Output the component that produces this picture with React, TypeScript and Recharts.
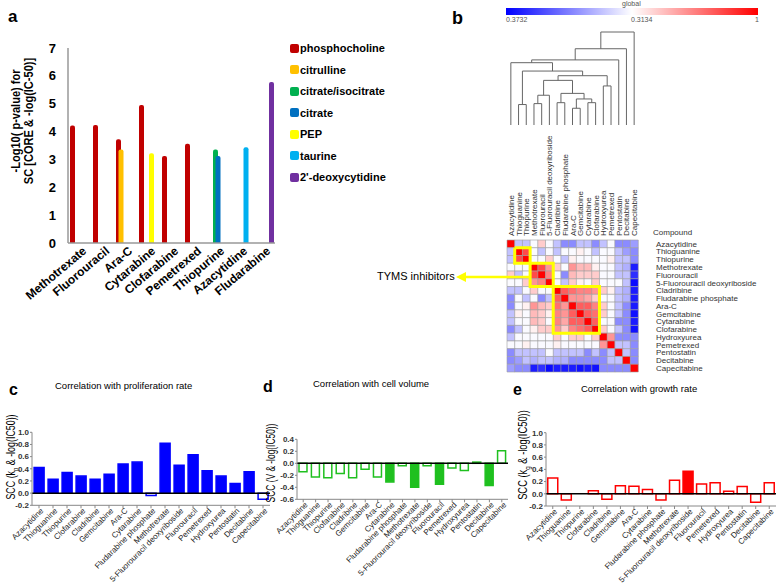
import React from "react";
import {
  BarChart,
  Bar,
  XAxis,
  YAxis,
  Cell,
  ReferenceLine,
  ScatterChart,
  Scatter,
} from "recharts";

const FONT = "'Liberation Sans', Arial, sans-serif";

// ---------- panel a ----------
const drugsA = [
  "Methotrexate",
  "Fluorouracil",
  "Ara-C",
  "Cytarabine",
  "Clofarabine",
  "Pemetrexed",
  "Thiopurine",
  "Azacytidine",
  "Fludarabine",
];
const metabolites = [
  "phosphocholine",
  "citrulline",
  "citrate/isocitrate",
  "citrate",
  "PEP",
  "taurine",
  "2'-deoxycytidine",
];
const metaboliteColors = ["#C00000", "#FFC000", "#00B050", "#0070C0", "#FFFF00", "#00B0F0", "#7030A0"];
const phosphocholine = [4.22, 4.24, 3.72, 4.95, 3.12, 3.56, null, null, null];
const citrulline = [null, null, 3.36, null, null, null, null, null, null];
const citrateIsocitrate = [null, null, null, null, null, null, 3.36, null, null];
const citrate = [null, null, null, null, null, null, 3.12, null, null];
const pep = [null, null, null, 3.22, null, null, null, null, null];
const taurine = [null, null, null, null, null, null, null, 3.44, null];
const deoxycytidine = [null, null, null, null, null, null, null, null, 5.78];
const seriesA = [phosphocholine, citrulline, citrateIsocitrate, citrate, pep, taurine, deoxycytidine];
const yTicksA = [0, 1, 2, 3, 4, 5, 6, 7];

// ---------- panel b ----------
const heatCompounds = [
  "Azacytidine",
  "Thioguanine",
  "Thiopurine",
  "Methotrexate",
  "Fluorouracil",
  "5-Fluorouracil deoxyriboside",
  "Cladribine",
  "Fludarabine phosphate",
  "Ara-C",
  "Gemcitabine",
  "Cytarabine",
  "Clofarabine",
  "Hydroxyurea",
  "Pemetrexed",
  "Pentostatin",
  "Decitabine",
  "Capecitabine",
];
const corrRows = [
  [1, 0.15, 0.15, 0.3, 0.45, 0.3, 0.15, 0, 0, 0.15, 0.15, 0, 0.15, 0.3, 0, 0, 0.05],
  [0.15, 1, 0.8, 0.3, 0.15, 0.3, 0.15, 0.3, 0.3, 0.35, 0.3, 0.15, 0.3, 0.3, 0.15, 0.05, 0],
  [0.15, 0.8, 1, 0.3, 0.3, 0.45, 0.3, 0.15, 0.35, 0.3, 0.3, 0.3, 0.3, 0.35, 0.15, 0.15, 0],
  [0.3, 0.3, 0.3, 1, 0.8, 0.6, 0.45, 0.3, 0.6, 0.5, 0.5, 0.35, 0.3, 0.3, 0.15, 0.1, -0.3],
  [0.45, 0.15, 0.3, 0.8, 1, 0.65, 0.3, 0, 0.5, 0.45, 0.45, 0.45, 0.3, 0.3, 0.15, 0.15, -0.25],
  [0.3, 0.3, 0.45, 0.6, 0.65, 1, 0.3, 0.15, 0.45, 0.35, 0.3, 0.45, 0.3, 0.3, 0.3, 0.15, -0.35],
  [0.15, 0.15, 0.3, 0.45, 0.3, 0.3, 1, 0.75, 0.7, 0.65, 0.65, 0.6, 0.45, 0.35, 0.15, 0.1, -0.3],
  [0, 0.3, 0.15, 0.3, 0, 0.15, 0.75, 1, 0.6, 0.6, 0.55, 0.45, 0.3, 0.3, 0.15, 0.1, -0.3],
  [0, 0.3, 0.35, 0.6, 0.5, 0.45, 0.7, 0.6, 1, 0.75, 0.75, 0.65, 0.45, 0.3, 0.15, 0, -0.3],
  [0.15, 0.35, 0.3, 0.5, 0.45, 0.35, 0.65, 0.6, 0.75, 1, 0.75, 0.7, 0.45, 0.3, 0.15, 0, -0.33],
  [0.15, 0.3, 0.3, 0.5, 0.45, 0.3, 0.65, 0.55, 0.75, 0.75, 1, 0.75, 0.3, 0.3, 0, 0, -0.3],
  [0, 0.15, 0.3, 0.35, 0.45, 0.45, 0.6, 0.45, 0.65, 0.7, 0.75, 1, 0.45, 0.3, 0.15, 0, -0.33],
  [0.15, 0.3, 0.3, 0.3, 0.3, 0.3, 0.45, 0.3, 0.45, 0.45, 0.3, 0.45, 1, 0.6, 0, 0, 0],
  [0.3, 0.3, 0.35, 0.3, 0.3, 0.3, 0.35, 0.3, 0.3, 0.3, 0.3, 0.3, 0.6, 1, 0.15, 0.15, 0],
  [0, 0.15, 0.15, 0.15, 0.15, 0.3, 0.15, 0.15, 0.15, 0.15, 0, 0.15, 0, 0.15, 1, 0.15, 0],
  [0, 0.05, 0.15, 0.1, 0.15, 0.15, 0.1, 0.1, 0, 0, 0, 0, 0, 0.15, 0.15, 1, 0],
  [0.05, 0, 0, -0.3, -0.25, -0.35, -0.3, -0.3, -0.3, -0.33, -0.3, -0.33, 0, 0, 0, 0, 1],
];
const colorStops = [-0.3732, 0.3134, 1];
const colorStopLabels = ["0.3732", "0.3134", "1"];
// [left node, right node, height]; nodes 0-16 are leaves, 17+ are the merges in order
const merges = [
  [1, 2, 0.22],
  [3, 4, 0.23],
  [6, 7, 0.24],
  [8, 9, 0.18],
  [10, 11, 0.24],
  [18, 5, 0.32],
  [20, 21, 0.28],
  [19, 23, 0.34],
  [12, 13, 0.42],
  [22, 24, 0.48],
  [26, 25, 0.53],
  [17, 27, 0.58],
  [0, 28, 0.67],
  [29, 14, 0.7],
  [30, 15, 0.82],
  [31, 16, 1.0],
];
// first / last compound of each highlighted block
const clusters = [
  [1, 2],
  [3, 5],
  [6, 11],
];

// ---------- panels c, d, e ----------
const corrCompounds = [
  "Azacytidine",
  "Thioguanine",
  "Thiopurine",
  "Clofarabine",
  "Cladribine",
  "Gemcitabine",
  "Ara-C",
  "Cytarabine",
  "Fludarabine phosphate",
  "Methotrexate",
  "5-Fluorouracil deoxyriboside",
  "Fluorouracil",
  "Pemetrexed",
  "Hydroxyurea",
  "Pentostatin",
  "Decitabine",
  "Capecitabine",
];
const sccProliferation = [0.42, 0.23, 0.34, 0.28, 0.23, 0.31, 0.48, 0.51, -0.04, 0.82, 0.46, 0.63, 0.37, 0.28, 0.16, 0.35, -0.1];
const sigProliferation = [1, 1, 1, 1, 1, 1, 1, 1, 0, 1, 1, 1, 1, 1, 1, 1, 0];
const sccVolume = [-0.14, -0.23, -0.24, -0.17, -0.24, -0.1, -0.23, -0.31, -0.04, -0.4, -0.04, -0.35, -0.08, -0.12, 0.02, -0.37, 0.21];
const sigVolume = [0, 0, 0, 0, 0, 0, 0, 1, 0, 1, 0, 1, 0, 0, 1, 1, 0];
const sccGrowth = [0.26, -0.1, 0, 0.05, -0.09, 0.13, 0.125, 0.07, -0.1, 0.22, 0.37, 0.16, 0.18, 0.04, 0.12, -0.14, 0.18];
const sigGrowth = [0, 0, 0, 0, 0, 0, 0, 0, 0, 0, 1, 0, 0, 0, 0, 0, 0];
const ticksCE = [-0.2, 0, 0.2, 0.4, 0.6, 0.8, 1.0];
const ticksD = [-0.6, -0.4, -0.2, 0, 0.2, 0.4];

function corrColor(v: number) {
  const [lo, mid, hi] = colorStops;
  if (v <= mid) {
    const t = Math.max(0, (v - lo) / (mid - lo));
    const c = Math.round(255 * t);
    return `rgb(${c},${c},255)`;
  }
  const t = Math.min(1, (v - mid) / (hi - mid));
  const c = Math.round(255 * (1 - t));
  return `rgb(255,${c},${c})`;
}

const dataA = drugsA.map((drug, i) => {
  const row: any = { drug };
  seriesA.forEach((s, k) => (row["m" + k] = s[i]));
  return row;
});

const heatData = heatCompounds.map((name) => {
  const row: any = { name };
  heatCompounds.forEach((_, r) => (row["r" + r] = 1));
  return row;
});

// dendrogram link paths
const nodeX: number[] = heatCompounds.map((_, i) => i);
const nodeH: number[] = heatCompounds.map(() => 0);
const links = merges.map(([a, b, h]) => {
  const pts = [
    { x: nodeX[a], y: nodeH[a] },
    { x: nodeX[a], y: h },
    { x: nodeX[b], y: h },
    { x: nodeX[b], y: nodeH[b] },
  ];
  nodeX.push((nodeX[a] + nodeX[b]) / 2);
  nodeH.push(h);
  return pts;
});

// outline of each highlighted block on the 0-17 cell grid
const boxes = clusters.map(([a, b]) => [
  { x: a, y: a },
  { x: b + 1, y: a },
  { x: b + 1, y: b + 1 },
  { x: a, y: b + 1 },
  { x: a, y: a },
]);

const DrugTick = (props: any) => {
  const { x, y, payload } = props;
  return (
    <g transform={`translate(${x + 5},${y - 2})`}>
      <text transform="rotate(-40)" textAnchor="end" dy="0.35em" fontSize={12} fontWeight={700} fill="#000" fontFamily={FONT}>
        {payload.value}
      </text>
    </g>
  );
};

const SmallTick = (props: any) => {
  const { x, y, payload } = props;
  return (
    <g transform={`translate(${x + 3},${y - 1})`}>
      <text transform="rotate(-45)" textAnchor="end" dy="0.35em" fontSize={8} fill="#222" fontFamily={FONT}>
        {payload.value}
      </text>
    </g>
  );
};

const ColLabel = (props: any) => {
  const { x, y, payload } = props;
  return (
    <text transform={`translate(${x + 3},${y + 4}) rotate(-90)`} fontSize={8} fill="#333" fontFamily={FONT}>
      {payload.value}
    </text>
  );
};

const RowLabel = (props: any) => {
  const { x, y, payload } = props;
  return (
    <text x={x + 10} y={y} dy="0.35em" fontSize={8} fill="#333" fontFamily={FONT}>
      {heatCompounds[Math.floor(payload.value)]}
    </text>
  );
};

const TitleA = () => (
  <g fontFamily={FONT} fontWeight={700} fontSize={13} fill="#000">
    <text transform="translate(20,121) rotate(-90) scale(0.85,1)" textAnchor="middle">
      -Log10( p-value) for
    </text>
    <text transform="translate(33,121) rotate(-90) scale(0.85,1)" textAnchor="middle">
      SC [CORE &amp; -log(IC-50)]
    </text>
  </g>
);

const SccTitle = (props: any) => {
  const { cx, cy, squeeze, sub, variable } = props;
  return (
    <text
      transform={`translate(${cx},${cy}) rotate(-90) scale(${squeeze},1)`}
      textAnchor="middle"
      fontSize={12}
      fill="#000"
      fontFamily={FONT}
    >
      <tspan>{`SCC (${variable}`}</tspan>
      {sub ? (
        <tspan dy={3} fontSize={8}>
          {sub}
        </tspan>
      ) : null}
      <tspan dy={sub ? -3 : 0}>{" & -log(IC50))"}</tspan>
    </text>
  );
};

function CorrPanel(props: any) {
  const { values, sig, color, domain, ticks, left, width, yWidth, plotTop, plotBottom, title, gap } = props;
  const data = corrCompounds.map((name, i) => ({ name, v: values[i] }));
  return (
    <div style={{ position: "absolute", left, top: 400 }}>
      <BarChart
        width={width}
        height={184}
        data={data}
        margin={{ top: plotTop - 400, right: 2, bottom: 0, left: 0 }}
        barCategoryGap={gap}
      >
        <XAxis
          dataKey="name"
          interval={0}
          height={584 - plotBottom}
          tick={<SmallTick />}
          axisLine={{ stroke: "#888" }}
          tickLine={{ stroke: "#888" }}
          tickSize={3}
        />
        <YAxis
          type="number"
          domain={domain}
          ticks={ticks}
          width={yWidth}
          interval={0}
          tickFormatter={(v: number) => v.toFixed(1)}
          tick={{ fontSize: 8, fontWeight: 700, fill: "#333", fontFamily: FONT }}
          axisLine={{ stroke: "#888" }}
          tickLine={{ stroke: "#888" }}
          tickSize={2}
          tickMargin={1}
          label={title}
        />
        <Bar dataKey="v" isAnimationActive={false} strokeWidth={1.5}>
          {values.map((_: number, i: number) => (
            <Cell key={i} fill={sig[i] ? color : "#fff"} stroke={color} />
          ))}
        </Bar>
        <ReferenceLine y={0} stroke="#000" strokeWidth={1.5} />
      </BarChart>
    </div>
  );
}

const txt = (style: any, content: any) => (
  <div style={{ position: "absolute", fontFamily: FONT, lineHeight: 1, whiteSpace: "nowrap", ...style }}>{content}</div>
);

export default function App() {
  return (
    <div style={{ position: "absolute", left: 0, top: 0, width: 778, height: 584, background: "#fff", overflow: "hidden" }}>
      {/* panel a */}
      {txt({ left: 8, top: 8, fontSize: 17, fontWeight: 700 }, "a")}
      <div style={{ position: "absolute", left: 0, top: 0 }}>
        <BarChart
          width={285}
          height={330}
          data={dataA}
          margin={{ top: 48, right: 10, bottom: 0, left: 0 }}
          barSize={5}
          barGap={-2.5}
          barCategoryGap={0}
        >
          <XAxis
            dataKey="drug"
            interval={0}
            height={87}
            tick={<DrugTick />}
            axisLine={{ stroke: "#999", strokeWidth: 1.5 }}
            tickLine={false}
          />
          <YAxis
            type="number"
            domain={[0, 7]}
            ticks={yTicksA}
            interval={0}
            width={68}
            tick={{ fontSize: 13, fontWeight: 700, fill: "#000", fontFamily: FONT }}
            axisLine={{ stroke: "#999", strokeWidth: 1.5 }}
            tickLine={false}
            tickMargin={6}
            label={<TitleA />}
          />
          {seriesA.map((_, k) => (
            <Bar key={k} dataKey={"m" + k} fill={metaboliteColors[k]} isAnimationActive={false} radius={[2, 2, 0, 0]} />
          ))}
        </BarChart>
      </div>
      {metabolites.map((m, k) => (
        <div
          key={m}
          style={{ position: "absolute", left: 290, top: 42 + k * 21.5, display: "flex", alignItems: "center", height: 12 }}
        >
          <span style={{ width: 9, height: 9, borderRadius: 2, background: metaboliteColors[k], display: "inline-block" }} />
          <span style={{ fontFamily: FONT, fontSize: 11, fontWeight: 700, color: "#000", marginLeft: 1 }}>{m}</span>
        </div>
      ))}

      {/* panel b */}
      {txt({ left: 452, top: 9, fontSize: 18, fontWeight: 700 }, "b")}
      {txt({ left: 622, top: 0, fontSize: 7, color: "#555" }, "global")}
      <div
        style={{
          position: "absolute",
          left: 506,
          top: 8,
          width: 252,
          height: 7,
          background: `linear-gradient(to right, ${corrColor(colorStops[0])}, ${corrColor(colorStops[1])}, ${corrColor(
            colorStops[2]
          )})`,
        }}
      />
      {txt({ left: 506, top: 16, fontSize: 7, color: "#555" }, colorStopLabels[0])}
      {txt({ left: 631, top: 16, fontSize: 7, color: "#555" }, colorStopLabels[1])}
      {txt({ left: 755, top: 16, fontSize: 7, color: "#555" }, colorStopLabels[2])}

      <div style={{ position: "absolute", left: 506, top: 30 }}>
        <ScatterChart width={133} height={97} margin={{ top: 2, right: 1, bottom: 2, left: 1 }}>
          <XAxis type="number" dataKey="x" domain={[-0.5, 16.5]} hide />
          <YAxis type="number" dataKey="y" domain={[0, 1]} hide />
          {links.map((pts, i) => (
            <Scatter
              key={i}
              data={pts}
              line={{ stroke: "#666", strokeWidth: 1 }}
              shape={() => <g />}
              isAnimationActive={false}
            />
          ))}
        </ScatterChart>
      </div>

      <div style={{ position: "absolute", left: 506, top: 125 }}>
        <BarChart
          width={267}
          height={249}
          data={heatData}
          margin={{ top: 0, right: 0, bottom: 2, left: 1 }}
          barCategoryGap={0}
        >
          <XAxis dataKey="name" orientation="top" interval={0} height={115} tick={<ColLabel />} axisLine={false} tickLine={false} />
          <YAxis
            type="number"
            orientation="right"
            domain={[0, 17]}
            reversed
            width={135}
            ticks={heatCompounds.map((_, i) => i + 0.5)}
            interval={0}
            tick={<RowLabel />}
            axisLine={false}
            tickLine={false}
          />
          {heatCompounds.map((_, r) => (
            <Bar key={r} dataKey={"r" + r} stackId="h" isAnimationActive={false} stroke="#a0a0a0" strokeWidth={0.6}>
              {heatCompounds.map((__, c) => (
                <Cell key={c} fill={corrColor(corrRows[r][c])} />
              ))}
            </Bar>
          ))}
        </BarChart>
      </div>
      {/* highlighted blocks, drawn over the heatmap on the same 0-17 grid */}
      <div style={{ position: "absolute", left: 507, top: 240 }}>
        <ScatterChart width={131} height={132} margin={{ top: 0, right: 0, bottom: 0, left: 0 }}>
          <XAxis type="number" dataKey="x" domain={[0, 17]} hide />
          <YAxis type="number" dataKey="y" domain={[0, 17]} reversed hide />
          {boxes.map((pts, i) => (
            <Scatter
              key={i}
              data={pts}
              line={{ stroke: "#FFFF00", strokeWidth: 3 }}
              shape={() => <g />}
              isAnimationActive={false}
            />
          ))}
        </ScatterChart>
      </div>
      {txt({ left: 653, top: 229, fontSize: 8, color: "#333" }, "Compound")}
      {txt({ left: 377, top: 271, fontSize: 11, color: "#000" }, "TYMS inhibitors")}
      <svg style={{ position: "absolute", left: 450, top: 265 }} width={90} height={24}>
        <line x1={14} y1={12} x2={79} y2={12} stroke="#FFFF00" strokeWidth={2.5} />
        <polygon points="6,12 16,7 16,17" fill="#FFFF00" />
      </svg>

      {/* panels c, d, e */}
      {txt({ left: 9, top: 382, fontSize: 16, fontWeight: 700 }, "c")}
      {txt({ left: 55, top: 381, fontSize: 9.5 }, "Correlation with proliferation rate")}
      {txt({ left: 263, top: 379, fontSize: 16, fontWeight: 700 }, "d")}
      {txt({ left: 313, top: 379, fontSize: 9.5 }, "Correlation with cell volume")}
      {txt({ left: 513, top: 382, fontSize: 16, fontWeight: 700 }, "e")}
      {txt({ left: 581, top: 384, fontSize: 9.5 }, "Correlation with growth rate")}

      <CorrPanel
        values={sccProliferation}
        sig={sigProliferation}
        color="#0000FF"
        domain={[-0.2, 1]}
        ticks={ticksCE}
        left={0}
        width={272}
        yWidth={32}
        plotTop={432.3}
        plotBottom={505.3}
        gap="15%"
        title={<SccTitle cx={15} cy={57} squeeze={0.74} variable="k" sub="p" />}
      />
      <CorrPanel
        values={sccVolume}
        sig={sigVolume}
        color="#1FC01F"
        domain={[-0.6, 0.4]}
        ticks={ticksD}
        left={262}
        width={248}
        yWidth={35}
        plotTop={439.3}
        plotBottom={499.3}
        gap="16%"
        title={<SccTitle cx={13} cy={63} squeeze={0.7} variable="V" sub="" />}
      />
      <CorrPanel
        values={sccGrowth}
        sig={sigGrowth}
        color="#FF0000"
        domain={[-0.2, 1]}
        ticks={ticksCE}
        left={512}
        width={266}
        yWidth={34}
        plotTop={432.7}
        plotBottom={506}
        gap="13%"
        title={<SccTitle cx={15} cy={55} squeeze={0.78} variable="k" sub="g" />}
      />
    </div>
  );
}
